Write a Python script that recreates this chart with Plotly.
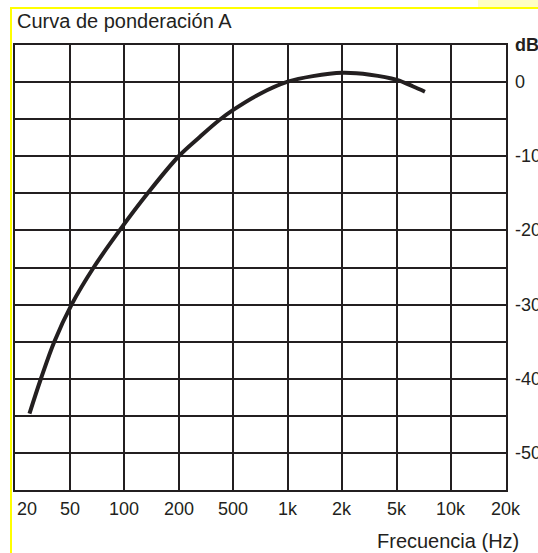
import numpy as np
import plotly.graph_objects as go

# Tick frequencies (equally spaced on the chart) and their labels
tick_freqs = [20, 50, 100, 200, 500, 1000, 2000, 5000, 10000, 20000]
tick_labels = ["20", "50", "100", "200", "500", "1k", "2k", "5k", "10k", "20k"]
db_labels = [0, -10, -20, -30, -40, -50]

# A-weighting curve
freq_hz = [25.5, 30.9, 38.7, 51.3, 67.9, 94.4, 134.9, 200, 285, 394, 500, 700,
           1000, 1375, 2000, 3180, 5000, 6150, 7140]
gain_db = [-44.7, -40, -35, -30, -25, -20, -15, -10, -7.4, -5.15, -3.75, -1.6,
           0.05, 0.8, 1.25, 1.0, 0.3, -0.6, -1.3]

INK = "#231f20"
FONT = "Liberation Sans, Arial, sans-serif"


def to_pos(f):
    return np.interp(np.log10(f), np.log10(tick_freqs), np.arange(len(tick_freqs)))


fig = go.Figure()
fig.add_trace(go.Scatter(
    x=to_pos(freq_hz), y=gain_db, mode="lines",
    line=dict(color=INK, width=4, shape="spline", smoothing=1.0),
    hoverinfo="skip", showlegend=False,
))

W, H = 538, 553
L, R, T, B = 15, 32, 45, 63

fig.update_layout(
    width=W, height=H,
    margin=dict(l=L, r=R, t=T, b=B, pad=0),
    paper_bgcolor="white", plot_bgcolor="white",
    font=dict(family=FONT, color=INK, size=18),
    xaxis=dict(range=[0, len(tick_freqs) - 1], dtick=1, tick0=0, showgrid=True,
               gridcolor=INK, gridwidth=2, showline=True, mirror=True,
               linecolor=INK, linewidth=2, showticklabels=False, zeroline=False,
               ticks=""),
    yaxis=dict(range=[-55, 5], dtick=5, tick0=0, showgrid=True,
               gridcolor=INK, gridwidth=2, showline=True, mirror=True,
               linecolor=INK, linewidth=2, showticklabels=False, zeroline=False,
               ticks=""),
)

ann = []
for i, lab in enumerate(tick_labels):
    ann.append(dict(x=i, y=-55, xref="x", yref="y", text=lab, showarrow=False,
                    xanchor="left" if i == 0 else "center", yanchor="middle",
                    yshift=-19, font=dict(size=18, color=INK, family=FONT)))
for v in db_labels:
    ann.append(dict(x=len(tick_freqs) - 1, y=v, xref="x", yref="y", text=str(v),
                    showarrow=False, xanchor="left", yanchor="middle", xshift=7,
                    font=dict(size=18, color=INK, family=FONT)))
ann.append(dict(x=len(tick_freqs) - 1, y=5, xref="x", yref="y", text="<b>dB</b>",
                showarrow=False, xanchor="left", yanchor="middle", xshift=7,
                font=dict(size=18, color=INK, family=FONT)))
ann.append(dict(x=0, y=5, xref="x", yref="y", text="Curva de ponderación A",
                showarrow=False, xanchor="left", yanchor="middle", yshift=24, xshift=0,
                font=dict(size=20, color=INK, family=FONT)))
ann.append(dict(x=len(tick_freqs) - 1, y=-55, xref="x", yref="y", text="Frecuencia (Hz)",
                showarrow=False, xanchor="right", yanchor="middle", xshift=15, yshift=-51,
                font=dict(size=20, color=INK, family=FONT)))
fig.update_layout(annotations=ann)

# Yellow frame (pixel -> paper coordinates)
pw, ph = W - L - R, H - T - B


def px(x):
    return (x - L) / pw


def py(y):
    return (H - B - y) / ph


fig.add_shape(type="rect", xref="paper", yref="paper", x0=px(478), x1=px(540),
              y0=py(7), y1=py(-2), fillcolor="#ffffc4", line=dict(width=0), layer="above")
fig.add_shape(type="line", xref="paper", yref="paper", x0=px(11), x1=px(540),
              y0=py(8), y1=py(8), line=dict(color="#ffff00", width=2), layer="above")
fig.add_shape(type="line", xref="paper", yref="paper", x0=px(11), x1=px(11),
              y0=py(7), y1=py(556), line=dict(color="#ffff00", width=2), layer="above")

fig.write_html("out.html", config={"displayModeBar": False},
               post_script="document.body.style.margin='0';")
